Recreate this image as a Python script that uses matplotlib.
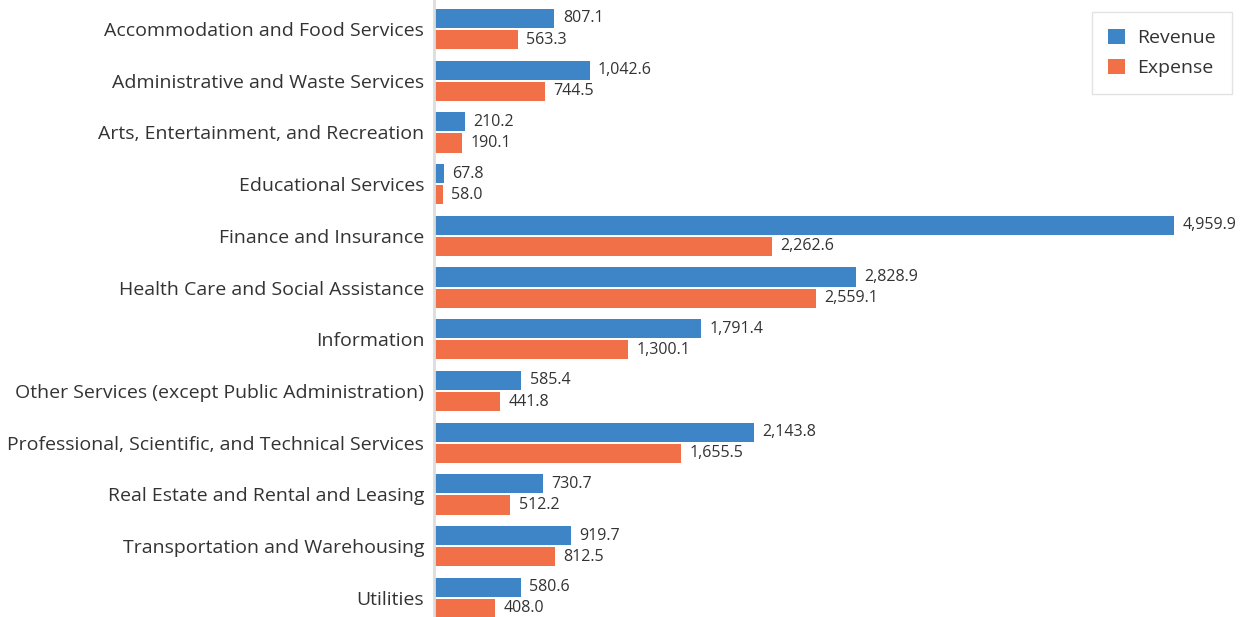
from matplotlib import pyplot as plt
import numpy as np

plt.rcParams['font.family'] = ['Open Sans', 'DejaVu Sans']

# data
categories = ['Accommodation and Food Services',
              'Administrative and Waste Services',
              'Arts, Entertainment, and Recreation',
              'Educational Services',
              'Finance and Insurance',
              'Health Care and Social Assistance',
              'Information',
              'Other Services (except Public Administration)',
              'Professional, Scientific, and Technical Services',
              'Real Estate and Rental and Leasing',
              'Transportation and Warehousing',
              'Utilities']
revenue = [807.1, 1042.6, 210.2, 67.8, 4959.9, 2828.9, 1791.4, 585.4, 2143.8, 730.7, 919.7, 580.6]
expense = [563.3, 744.5, 190.1, 58.0, 2262.6, 2559.1, 1300.1, 441.8, 1655.5, 512.2, 812.5, 408.0]

blue = '#3d85c6'
orange = '#f27048'
text_color = '#333333'

W, H = 1241, 617
fig = plt.figure(figsize=(W / 100, H / 100), dpi=100)
ax = fig.add_axes([434 / W, 0, 1 - 434 / W, 1])

y = np.arange(len(categories))
h = 0.37
gap = 0.02
ax.barh(y - h / 2 - gap, revenue, height=h, color=blue, label='Revenue')
ax.barh(y + h / 2 + gap, expense, height=h, color=orange, label='Expense')

# value labels at the end of each bar
for i in range(len(categories)):
    ax.annotate('{:,.1f}'.format(revenue[i]), (revenue[i], y[i] - h / 2 - gap),
                xytext=(6, 0), textcoords='offset points', va='center', ha='left',
                fontsize=11.5, color=text_color)
    ax.annotate('{:,.1f}'.format(expense[i]), (expense[i], y[i] + h / 2 + gap),
                xytext=(6, 0), textcoords='offset points', va='center', ha='left',
                fontsize=11.5, color=text_color)

ax.set_xlim(0, 807 / 0.1492)
ax.set_ylim(11.37, -0.56)
ax.set_yticks(y)
ax.set_yticklabels(categories, fontsize=14, color=text_color)
ax.tick_params(axis='y', length=0, pad=7)
ax.set_xticks([])

for s in ['top', 'right', 'bottom']:
    ax.spines[s].set_visible(False)
ax.spines['left'].set_color('#dddddd')
ax.spines['left'].set_linewidth(2)

leg = ax.legend(loc='upper right', bbox_to_anchor=(1 - 9 / 807, 1 - 12 / 617),
                fontsize=14, frameon=True, fancybox=False, borderpad=0.85,
                handlelength=0.86, handleheight=0.86, handletextpad=0.62,
                labelspacing=0.6, borderaxespad=0)
leg.get_frame().set_edgecolor('#dddddd')
leg.get_frame().set_linewidth(1)
for t in leg.get_texts():
    t.set_color(text_color)

plt.savefig('out.png', dpi=100)
